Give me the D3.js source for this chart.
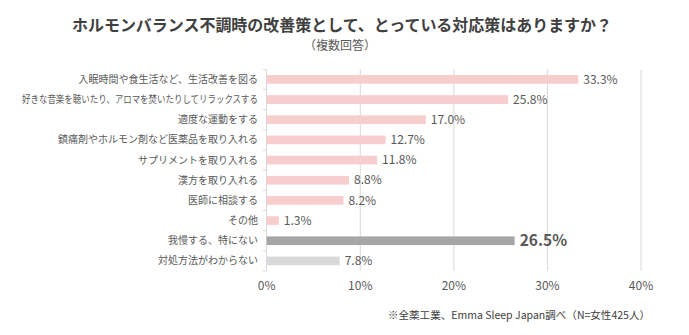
<!DOCTYPE html>
<html>
<head>
<meta charset="utf-8">
<script src="https://d3js.org/d3.v7.min.js"></script>
<style>
  body { margin: 0; background: #fff; }
  text { font-family: "Noto Sans CJK JP", "Noto Sans", sans-serif; }
</style>
</head>
<body>
<div id="graph1"></div>
<script>
var categories = ["入眠時間や食生活など、生活改善を図る", "好きな音楽を聴いたり、アロマを焚いたりしてリラックスする", "適度な運動をする",
  "鎮痛剤やホルモン剤など医薬品を取り入れる", "サプリメントを取り入れる", "漢方を取り入れる", "医師に相談する", "その他",
  "我慢する、特にない", "対処方法がわからない"];
var values = [33.3, 25.8, 17.0, 12.7, 11.8, 8.8, 8.2, 1.3, 26.5, 7.8];
var groups = [0, 0, 0, 0, 0, 0, 0, 0, 1, 2];
var ticks = [0, 10, 20, 30, 40];

function get_color(i){
    var colors = ['#f8cdcd', '#a6a6a6', '#d9d9d9']
    return colors[i]
}

function bar_chart(){
    var width = 689, height = 335;
    var svg = d3.select("#graph1").append("svg")
      .attr("width", width)
      .attr("height", height);

    var xscale = d3.scaleLinear().domain([0, 40]).range([266.7, 641]);
    var yscale = d3.scaleBand().domain(categories).range([69.3, 271]).paddingInner(0.57).paddingOuter(0.285);
    var band = d3.scaleBand().domain(categories).range([69.3, 271]);

    // grid
    svg.selectAll(".grid").data(ticks.slice(1)).enter().append("line")
      .attr("x1", function(d){ return xscale(d) }).attr("x2", function(d){ return xscale(d) })
      .attr("y1", 69.3).attr("y2", 271)
      .attr("stroke", "#d9d9d9").attr("stroke-width", 1);

    // y axis line with ticks at category boundaries
    svg.append("line").attr("x1", 266.5).attr("x2", 266.5).attr("y1", 69.3).attr("y2", 271)
      .attr("stroke", "#d9d9d9");
    svg.selectAll(".ytick").data(categories.concat(["_end"])).enter().append("line")
      .attr("x1", 263).attr("x2", 266.5)
      .attr("y1", function(d, i){ return 69.3 + i * band.step() })
      .attr("y2", function(d, i){ return 69.3 + i * band.step() })
      .attr("stroke", "#d9d9d9");

    svg.selectAll(".bar").data(values).enter().append("rect")
      .attr("x", xscale(0))
      .attr("y", function(d, i){ return yscale(categories[i]) })
      .attr("width", function(d){ return xscale(d) - xscale(0) })
      .attr("height", yscale.bandwidth())
      .attr("fill", function(d, i){ return get_color(groups[i]) });

    svg.selectAll(".cat").data(categories).enter().append("text")
      .attr("x", 258)
      .attr("y", function(d){ return band(d) + band.bandwidth() / 2 })
      .attr("dy", "0.35em")
      .attr("text-anchor", "end")
      .attr("font-size", 10)
      .attr("fill", "#595959")
      .text(function(d){ return d })
      .each(function(){
        // squeeze the long label so it fits like the original
        if (this.getComputedTextLength() > 236) {
          d3.select(this).attr("textLength", 236).attr("lengthAdjust", "spacingAndGlyphs");
        }
      });

    svg.selectAll(".val").data(values).enter().append("text")
      .attr("x", function(d){ return xscale(d) + 5 })
      .attr("y", function(d, i){ return band(categories[i]) + band.bandwidth() / 2 })
      .attr("dy", "0.35em")
      .attr("font-size", function(d, i){ return groups[i] == 1 ? 15.5 : 12 })
      .attr("font-weight", function(d, i){ return groups[i] == 1 ? "bold" : "normal" })
      .attr("fill", "#595959")
      .text(function(d){ return d.toFixed(1) + "%" });

    svg.selectAll(".xt").data(ticks).enter().append("text")
      .attr("x", function(d){ return xscale(d) })
      .attr("y", 290)
      .attr("text-anchor", "middle")
      .attr("font-size", 12)
      .attr("fill", "#595959")
      .text(function(d){ return d + "%" });

    svg.append("text")
      .attr("x", 342).attr("y", 31)
      .attr("text-anchor", "middle")
      .attr("font-size", 16)
      .attr("font-weight", "bold")
      .attr("fill", "#404040")
      .attr("textLength", 540)
      .attr("lengthAdjust", "spacingAndGlyphs")
      .text("ホルモンバランス不調時の改善策として、とっている対応策はありますか？");

    svg.append("text")
      .attr("x", 340).attr("y", 50)
      .attr("text-anchor", "middle")
      .attr("font-size", 12)
      .attr("fill", "#595959")
      .text("（複数回答）");

    svg.append("text")
      .attr("x", 650).attr("y", 319)
      .attr("text-anchor", "end")
      .attr("font-size", 10.5)
      .attr("fill", "#404040")
      .attr("textLength", 262)
      .attr("lengthAdjust", "spacingAndGlyphs")
      .text("※全薬工業、Emma Sleep Japan調べ（N=女性425人）");
}

bar_chart();
</script>
</body>
</html>
